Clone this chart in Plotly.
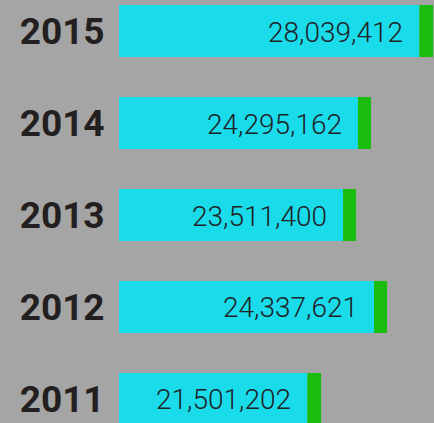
import plotly.graph_objects as go

# Data
years = ["2015", "2014", "2013", "2012", "2011"]
labels = ["28,039,412", "24,295,162", "23,511,400", "24,337,621", "21,501,202"]
# cyan bar lengths (millions) as drawn in the picture
bar_len = [28.04, 24.45, 23.58, 25.39, 21.50]
# green end-cap lengths (millions)
cap_len = [0.80, 0.76, 0.76, 0.76, 0.80]

BG = "#a5a5a5"
CYAN = "#1adbea"
GREEN = "#1abd0b"

fig = go.Figure()
fig.add_trace(go.Bar(
    y=years, x=bar_len, orientation="h", base=0,
    marker=dict(color=CYAN, line=dict(width=0)), width=0.565,
    hoverinfo="skip",
))
fig.add_trace(go.Bar(
    y=years, x=cap_len, orientation="h", base=bar_len,
    marker=dict(color=GREEN, line=dict(width=0)), width=0.565,
    hoverinfo="skip",
))

for i, (x, t) in enumerate(zip(bar_len, labels)):
    fig.add_annotation(
        x=x, y=i, xref="x", yref="y", text=t, showarrow=False,
        xanchor="right", yanchor="middle", xshift=-14, yshift=-1,
        font=dict(family="Roboto", size=28, color="#1e2326", weight=300),
    )

fig.update_layout(
    width=434, height=423,
    margin=dict(l=119, r=0, t=0, b=0),
    paper_bgcolor=BG, plot_bgcolor=BG,
    barmode="overlay",
    showlegend=False,
    xaxis=dict(range=[10.5, 28.89], visible=False, fixedrange=True),
    yaxis=dict(
        type="category", categoryorder="array", categoryarray=years,
        range=[4.261, -0.337],
        showgrid=False, zeroline=False, showline=False,
        ticks="outside", ticklen=6, tickcolor=BG,
        tickfont=dict(family="Roboto", size=37, color="#231f20", weight="bold"),
        fixedrange=True, automargin=False,
    ),
)

fig.write_html(
    "out.html",
    config={"displayModeBar": False},
    post_script="document.body.style.margin='0';document.body.style.background='#a5a5a5';",
)
